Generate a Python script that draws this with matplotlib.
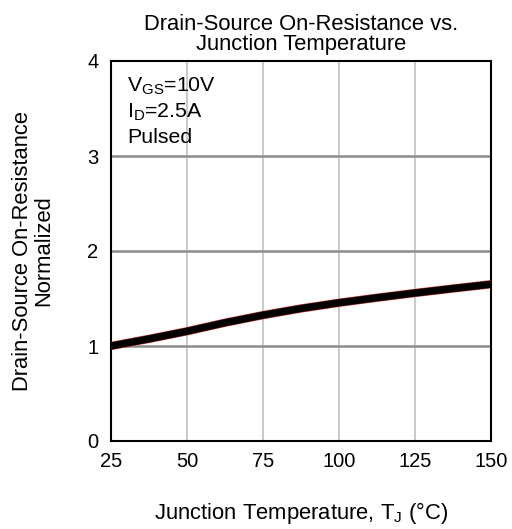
import matplotlib
matplotlib.use('Agg')
import matplotlib.pyplot as plt

# 数据 - 从图中读取
temp = [25, 37.5, 50, 62.5, 75, 87.5, 100, 112.5, 125, 137.5, 150]
rds_norm = [1.0, 1.075, 1.155, 1.245, 1.325, 1.395, 1.455, 1.508, 1.558, 1.605, 1.65]

x_ticks = [25, 50, 75, 100, 125, 150]
y_ticks = [0, 1, 2, 3, 4]

plt.rcParams['font.family'] = ['Liberation Sans', 'DejaVu Sans']
plt.rcParams['mathtext.fontset'] = 'custom'
plt.rcParams['mathtext.rm'] = 'Liberation Sans'
plt.rcParams['mathtext.it'] = 'Liberation Sans'

fig = plt.figure(figsize=(5.12, 5.29), dpi=100)
ax = fig.add_axes([111 / 512, 1 - 441 / 529, 380 / 512, 380 / 529])

# 网格线
for xv in x_ticks[1:-1]:
    ax.axvline(xv, color='#c0c0c0', linewidth=1.2, zorder=1)
for yv in y_ticks[1:-1]:
    ax.axhline(yv, color='#8c8c8c', linewidth=1.8, zorder=1)

ax.plot(temp, rds_norm, color='#d04040', linewidth=6.0, solid_capstyle='butt', zorder=3)
ax.plot(temp, rds_norm, color='black', linewidth=5.2, solid_capstyle='butt', zorder=4)

ax.set_xlim(25, 150)
ax.set_ylim(0, 4)
ax.set_xticks(x_ticks)
ax.set_yticks(y_ticks)
ax.tick_params(axis='x', length=0, labelsize=14.5, pad=8)
ax.tick_params(axis='y', length=0, labelsize=14.5, pad=9)

for s in ax.spines.values():
    s.set_color('black')
    s.set_linewidth(1.5)

ax.set_title('Drain-Source On-Resistance vs.\nJunction Temperature', fontsize=15.8, pad=8,
             linespacing=0.95)
ax.set_xlabel('Junction Temperature, T$_\\mathrm{J}$ (°C)', fontsize=15.8, labelpad=21)
ax.set_ylabel('Drain-Source On-Resistance\nNormalized', fontsize=15.8, labelpad=24,
              linespacing=1.0)

ax.text(0.042, 0.962, 'V$_\\mathrm{GS}$=10V\nI$_\\mathrm{D}$=2.5A\nPulsed',
        transform=ax.transAxes, fontsize=15.4, va='top', ha='left', linespacing=1.32)

plt.savefig('out.png', dpi=100)
plt.close()
